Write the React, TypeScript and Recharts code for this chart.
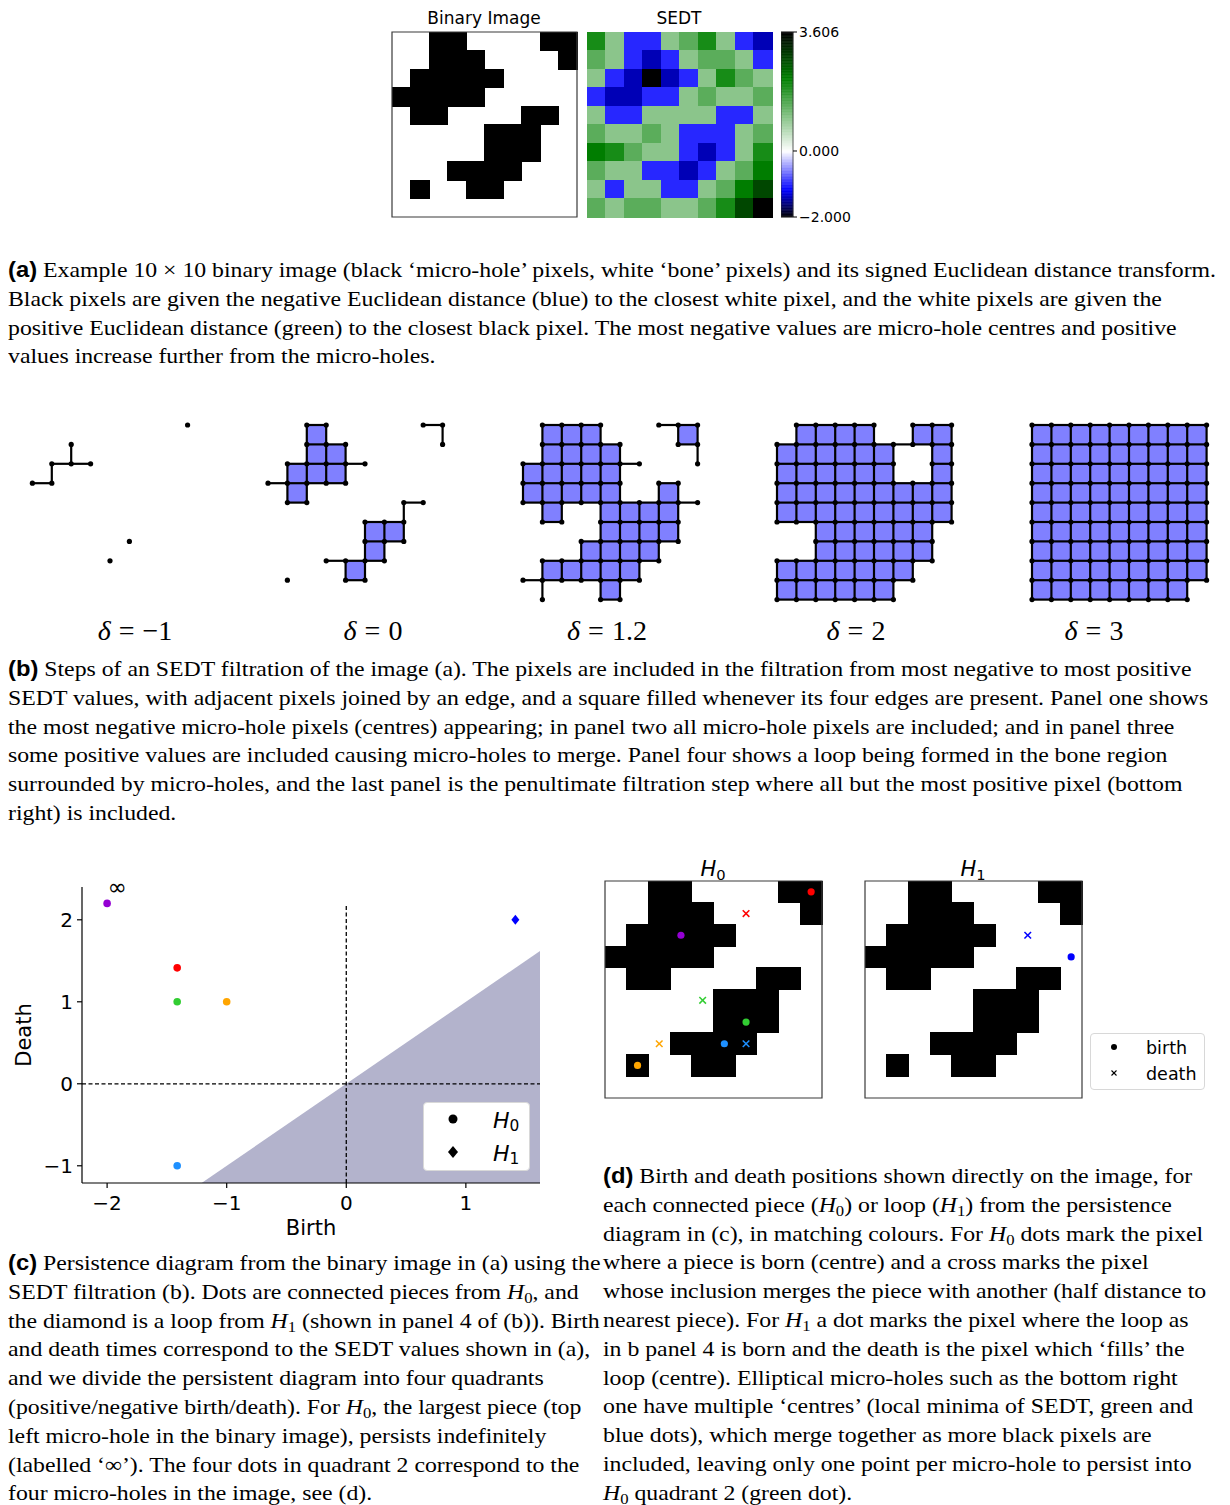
import React from 'react';
import {
  ScatterChart,
  Scatter,
  ComposedChart,
  Area,
  XAxis,
  YAxis,
  ReferenceArea,
  ReferenceLine,
} from 'recharts';

// 10 x 10 binary image: 1 = micro-hole (black), 0 = bone (white)
const binaryImage: number[][] = [
  [0, 0, 1, 1, 0, 0, 0, 0, 1, 1],
  [0, 0, 1, 1, 1, 0, 0, 0, 0, 1],
  [0, 1, 1, 1, 1, 1, 0, 0, 0, 0],
  [1, 1, 1, 1, 1, 0, 0, 0, 0, 0],
  [0, 1, 1, 0, 0, 0, 0, 1, 1, 0],
  [0, 0, 0, 0, 0, 1, 1, 1, 0, 0],
  [0, 0, 0, 0, 0, 1, 1, 1, 0, 0],
  [0, 0, 0, 1, 1, 1, 1, 0, 0, 0],
  [0, 1, 0, 0, 1, 1, 0, 0, 0, 0],
  [0, 0, 0, 0, 0, 0, 0, 0, 0, 0],
];

// signed Euclidean distance transform of the image above
const sedt: number[][] = [
  [2, 1, -1, -1, 1, 1.414, 2, 1, -1, -1.414],
  [1.414, 1, -1, -1.414, -1, 1, 1.414, 1.414, 1, -1],
  [1, -1, -1.414, -2, -1.414, -1, 1, 2, 1.414, 1],
  [-1, -1.414, -1.414, -1, -1, 1, 1.414, 1, 1, 1.414],
  [1, -1, -1, 1, 1, 1, 1, -1, -1, 1],
  [1.414, 1, 1, 1.414, 1, -1, -1, -1, 1, 1.414],
  [2.236, 2, 1.414, 1, 1, -1, -1.414, -1, 1, 2],
  [1.414, 1, 1, -1, -1, -1.414, -1, 1, 1.414, 2.236],
  [1, -1, 1, 1, -1, -1, 1, 1.414, 2.236, 2.828],
  [1.414, 1, 1.414, 1.414, 1, 1, 1.414, 2, 2.828, 3.606],
];

const colorbarTicks = [-2, 0, 3.606];
const SEDT_MIN = -2;
const SEDT_MAX = 3.606;

// filtration steps shown in (b): a pixel is in when its value is below delta
const filtrationDeltas = [-1, 0, 1.2, 2, 3];
const deltaLabels = ['−1', '0', '1.2', '2', '3'];

// persistence pairs (c); 2.2 is where the infinite death is drawn
const h0Birth = [-2, -1.414, -1.414, -1, -1.414];
const h0Death = [2.2, 1.414, 1, 1, -1];
const h1Birth = [1.414];
const h1Death = [2];
const birthTicks = [-2, -1, 0, 1];
const deathTicks = [-1, 0, 1, 2];

// pixel (row, col) of each birth / death for (d)
const h0BirthPixel: [number, number][] = [[2, 3], [0, 9], [6, 6], [8, 1], [7, 5]];
const h0DeathPixel: ([number, number] | null)[] = [null, [1, 6], [5, 4], [7, 2], [7, 6]];
const h1BirthPixel: [number, number][] = [[3, 9]];
const h1DeathPixel: [number, number][] = [[2, 7]];

const pieceColors = ['#9400d3', '#ff0000', '#32cd32', '#ffa500', '#1e90ff'];
const loopColors = ['#0000ff'];

const SERIF = '"Liberation Serif", "Times New Roman", serif';
const SANS = '"DejaVu Sans", Verdana, sans-serif';
const BOLD_SANS = '"Liberation Sans", Arial, sans-serif';

// black -> blue -> white -> green -> black, like the colorbar
const cmapStops: [number, number[]][] = [
  [-2, [0, 0, 0]],
  [-1.18, [0, 0, 255]],
  [0, [255, 255, 255]],
  [2.2, [0, 128, 0]],
  [3.606, [0, 0, 0]],
];

function cmap(v: number) {
  for (let i = 0; i < cmapStops.length - 1; i++) {
    const [a, ca] = cmapStops[i];
    const [b, cb] = cmapStops[i + 1];
    if (v <= b || i === cmapStops.length - 2) {
      const t = Math.max(0, Math.min(1, (v - a) / (b - a)));
      const c = ca.map((x, k) => Math.round(x + (cb[k] - x) * t));
      return `rgb(${c[0]},${c[1]},${c[2]})`;
    }
  }
  return '#000';
}

const minus = (v: number | string) => String(v).replace('-', '−');

const Sub = ({ children }: { children: React.ReactNode }) => (
  <sub style={{ fontSize: '0.7em', verticalAlign: '-0.25em', lineHeight: 0 }}>{children}</sub>
);
const Hk = ({ k }: { k: number }) => (
  <>
    <i>H</i>
    <Sub>{k}</Sub>
  </>
);

// ---------- image panels ----------
interface PixelImageProps {
  left: number;
  top: number;
  size: number;
  cellColor: (r: number, c: number) => string | null;
  border?: boolean;
  children?: React.ReactNode;
}

function PixelImage({ left, top, size, cellColor, border = true, children }: PixelImageProps) {
  const pad = 2;
  const cells: React.ReactNode[] = [];
  binaryImage.forEach((row, r) =>
    row.forEach((_, c) => {
      const fill = cellColor(r, c);
      if (fill) {
        cells.push(
          <ReferenceArea
            key={`${r}-${c}`}
            x1={c}
            x2={c + 1}
            y1={r}
            y2={r + 1}
            fill={fill}
            fillOpacity={1}
            stroke={fill}
            strokeWidth={1}
            shapeRendering="crispEdges"
            ifOverflow="visible"
          />
        );
      }
    })
  );
  return (
    <div style={{ position: 'absolute', left: left - pad, top: top - pad }}>
      <ScatterChart
        width={size + pad * 2}
        height={size + pad * 2}
        margin={{ top: pad, right: pad, bottom: pad, left: pad }}
      >
        <XAxis type="number" dataKey="x" domain={[0, 10]} hide allowDataOverflow />
        <YAxis type="number" dataKey="y" domain={[0, 10]} reversed hide allowDataOverflow />
        {cells}
        {border && (
          <ReferenceArea
            x1={0}
            x2={10}
            y1={0}
            y2={10}
            fill="none"
            stroke="#3a3a3a"
            strokeWidth={1.2}
            ifOverflow="visible"
          />
        )}
        {children}
      </ScatterChart>
    </div>
  );
}

function Colorbar() {
  // thin slices filled from the same colormap as the SEDT cells
  const slices: React.ReactNode[] = [];
  const n = 120;
  for (let i = 0; i < n; i++) {
    const lo = SEDT_MIN + ((SEDT_MAX - SEDT_MIN) * i) / n;
    const hi = SEDT_MIN + ((SEDT_MAX - SEDT_MIN) * (i + 1)) / n;
    const col = cmap((lo + hi) / 2);
    slices.push(
      <ReferenceArea
        key={i}
        x1={0}
        x2={1}
        y1={lo}
        y2={hi}
        fill={col}
        fillOpacity={1}
        stroke={col}
        strokeWidth={0.6}
        ifOverflow="visible"
      />
    );
  }
  return (
    <div style={{ position: 'absolute', left: 781, top: 22 }}>
      <ComposedChart width={92} height={205} margin={{ top: 10, right: 0, bottom: 10, left: 0 }}>
        <XAxis type="number" dataKey="x" domain={[0, 1]} hide allowDataOverflow />
        <YAxis
          type="number"
          dataKey="y"
          orientation="right"
          domain={[SEDT_MIN, SEDT_MAX]}
          ticks={colorbarTicks}
          interval={0}
          width={80}
          tickSize={4}
          tickMargin={2}
          axisLine={false}
          tickLine={{ stroke: '#000' }}
          tickFormatter={(v: number) => minus(v.toFixed(3))}
          tick={{ fill: '#000', fontSize: 14, fontFamily: SANS }}
          allowDataOverflow
        />
        {slices}
        <ReferenceArea
          x1={0}
          x2={1}
          y1={SEDT_MIN}
          y2={SEDT_MAX}
          fill="none"
          stroke="#333"
          strokeWidth={0.8}
          ifOverflow="visible"
        />
      </ComposedChart>
    </div>
  );
}

// ---------- filtration panel ----------
const STEP = 19.4;

function FiltrationPanel({ delta, left, top }: { delta: number; left: number; top: number }) {
  const pad = 6;
  const inc = (r: number, c: number) => sedt[r][c] < delta;
  const squares: React.ReactNode[] = [];
  const edges: React.ReactNode[] = [];
  const verts: { x: number; y: number }[] = [];
  for (let r = 0; r < 10; r++) {
    for (let c = 0; c < 10; c++) {
      if (!inc(r, c)) continue;
      verts.push({ x: c, y: r });
      if (c < 9 && inc(r, c + 1)) {
        edges.push(
          <ReferenceLine
            key={`h${r}-${c}`}
            segment={[{ x: c, y: r }, { x: c + 1, y: r }]}
            stroke="#000"
            strokeWidth={2.2}
            ifOverflow="visible"
          />
        );
      }
      if (r < 9 && inc(r + 1, c)) {
        edges.push(
          <ReferenceLine
            key={`v${r}-${c}`}
            segment={[{ x: c, y: r }, { x: c, y: r + 1 }]}
            stroke="#000"
            strokeWidth={2.2}
            ifOverflow="visible"
          />
        );
      }
      if (r < 9 && c < 9 && inc(r, c + 1) && inc(r + 1, c) && inc(r + 1, c + 1)) {
        squares.push(
          <ReferenceArea
            key={`s${r}-${c}`}
            x1={c}
            x2={c + 1}
            y1={r}
            y2={r + 1}
            fill="#8080ff"
            fillOpacity={1}
            stroke="none"
            ifOverflow="visible"
          />
        );
      }
    }
  }
  const size = STEP * 9;
  return (
    <div style={{ position: 'absolute', left: left - pad, top: top - pad }}>
      <ScatterChart
        width={size + pad * 2}
        height={size + pad * 2}
        margin={{ top: pad, right: pad, bottom: pad, left: pad }}
      >
        <XAxis type="number" dataKey="x" domain={[0, 9]} hide />
        <YAxis type="number" dataKey="y" domain={[0, 9]} reversed hide />
        {squares}
        {edges}
        <Scatter
          data={verts}
          isAnimationActive={false}
          shape={(p: any) => <circle cx={p.cx} cy={p.cy} r={2.6} fill="#000" />}
        />
      </ScatterChart>
    </div>
  );
}

// ---------- markers ----------
const dotShape = (color: string, r: number) => (p: any) => (
  <circle cx={p.cx} cy={p.cy} r={r} fill={color} />
);
const crossShape = (color: string, h: number, w = 1.5) => (p: any) => (
  <g stroke={color} strokeWidth={w}>
    <line x1={p.cx - h} y1={p.cy - h} x2={p.cx + h} y2={p.cy + h} />
    <line x1={p.cx - h} y1={p.cy + h} x2={p.cx + h} y2={p.cy - h} />
  </g>
);
const diamondShape = (color: string, h: number) => (p: any) => (
  <polygon
    points={`${p.cx},${p.cy - h} ${p.cx + h * 0.8},${p.cy} ${p.cx},${p.cy + h} ${p.cx - h * 0.8},${p.cy}`}
    fill={color}
  />
);

const pixelPoint = (px: [number, number]) => [{ x: px[1] + 0.5, y: px[0] + 0.5 }];

// ---------- persistence diagram ----------
const X_MIN = -2.21;
const X_MAX = 1.62;
const Y_MIN = -1.21;
const Y_MAX = 2.4;
const diagonal = [
  { x: Y_MIN, y: Y_MIN },
  { x: X_MAX, y: X_MAX },
];

function PersistenceDiagram() {
  const tick = { fill: '#000', fontSize: 20, fontFamily: SANS };
  return (
    <div style={{ position: 'absolute', left: 0, top: 860 }}>
      <ComposedChart
        width={560}
        height={400}
        data={diagonal}
        margin={{ top: 27, right: 20, bottom: 37, left: 32 }}
      >
        <XAxis
          type="number"
          dataKey="x"
          domain={[X_MIN, X_MAX]}
          ticks={birthTicks}
          interval={0}
          height={40}
          tickSize={5}
          tickMargin={8}
          tick={tick}
          tickFormatter={minus}
          axisLine={{ stroke: '#000', strokeWidth: 1.2 }}
          tickLine={{ stroke: '#000', strokeWidth: 1.2 }}
          allowDataOverflow
        />
        <YAxis
          type="number"
          dataKey="y"
          domain={[Y_MIN, Y_MAX]}
          ticks={deathTicks}
          interval={0}
          width={50}
          tickSize={5}
          tickMargin={4}
          tick={tick}
          tickFormatter={minus}
          axisLine={{ stroke: '#000', strokeWidth: 1.2 }}
          tickLine={{ stroke: '#000', strokeWidth: 1.2 }}
          allowDataOverflow
        />
        <Area
          type="linear"
          dataKey="y"
          baseValue={Y_MIN}
          fill="#b3b3cc"
          fillOpacity={1}
          stroke="none"
          isAnimationActive={false}
        />
        <ReferenceLine y={0} stroke="#000" strokeWidth={1.3} strokeDasharray="4 2.5" />
        <ReferenceLine
          segment={[{ x: 0, y: Y_MIN }, { x: 0, y: 2.2 }]}
          stroke="#000"
          strokeWidth={1.3}
          strokeDasharray="4 2.5"
        />
        {h0Birth.map((b, i) => (
          <Scatter
            key={`h0-${i}`}
            data={[{ x: b, y: h0Death[i] }]}
            isAnimationActive={false}
            shape={dotShape(pieceColors[i], 3.8)}
          />
        ))}
        {h1Birth.map((b, i) => (
          <Scatter
            key={`h1-${i}`}
            data={[{ x: b, y: h1Death[i] }]}
            isAnimationActive={false}
            shape={diamondShape(loopColors[i], 5)}
          />
        ))}
      </ComposedChart>
    </div>
  );
}

// ---------- captions ----------
function Caption({
  label,
  lines,
  left,
  top,
}: {
  label: string;
  lines: React.ReactNode[];
  left: number;
  top: number;
}) {
  return (
    <div
      style={{
        position: 'absolute',
        left,
        top,
        fontFamily: SERIF,
        fontSize: 21.5,
        lineHeight: '28.8px',
        whiteSpace: 'nowrap',
        color: '#000',
        transform: 'scaleX(1.105)',
        transformOrigin: '0 0',
      }}
    >
      {lines.map((ln, i) => (
        <div key={i}>
          {i === 0 && <b style={{ fontFamily: BOLD_SANS }}>({label})</b>}
          {i === 0 && ' '}
          {ln}
        </div>
      ))}
    </div>
  );
}

const captionA = [
  'Example 10 × 10 binary image (black ‘micro-hole’ pixels, white ‘bone’ pixels) and its signed Euclidean distance transform.',
  'Black pixels are given the negative Euclidean distance (blue) to the closest white pixel, and the white pixels are given the',
  'positive Euclidean distance (green) to the closest black pixel. The most negative values are micro-hole centres and positive',
  'values increase further from the micro-holes.',
];
const captionB = [
  'Steps of an SEDT filtration of the image (a). The pixels are included in the filtration from most negative to most positive',
  'SEDT values, with adjacent pixels joined by an edge, and a square filled whenever its four edges are present. Panel one shows',
  'the most negative micro-hole pixels (centres) appearing; in panel two all micro-hole pixels are included; and in panel three',
  'some positive values are included causing micro-holes to merge. Panel four shows a loop being formed in the bone region',
  'surrounded by micro-holes, and the last panel is the penultimate filtration step where all but the most positive pixel (bottom',
  'right) is included.',
];
const captionC: React.ReactNode[] = [
  'Persistence diagram from the binary image in (a) using the',
  <>SEDT filtration (b). Dots are connected pieces from <Hk k={0} />, and</>,
  <>the diamond is a loop from <Hk k={1} /> (shown in panel 4 of (b)). Birth</>,
  'and death times correspond to the SEDT values shown in (a),',
  'and we divide the persistent diagram into four quadrants',
  <>(positive/negative birth/death). For <Hk k={0} />, the largest piece (top</>,
  'left micro-hole in the binary image), persists indefinitely',
  '(labelled ‘∞’). The four dots in quadrant 2 correspond to the',
  'four micro-holes in the image, see (d).',
];
const captionD: React.ReactNode[] = [
  'Birth and death positions shown directly on the image, for',
  <>each connected piece (<Hk k={0} />) or loop (<Hk k={1} />) from the persistence</>,
  <>diagram in (c), in matching colours. For <Hk k={0} /> dots mark the pixel</>,
  'where a piece is born (centre) and a cross marks the pixel',
  'whose inclusion merges the piece with another (half distance to',
  <>nearest piece). For <Hk k={1} /> a dot marks the pixel where the loop as</>,
  'in b panel 4 is born and the death is the pixel which ‘fills’ the',
  'loop (centre). Elliptical micro-holes such as the bottom right',
  'one have multiple ‘centres’ (local minima of SEDT, green and',
  'blue dots), which merge together as more black pixels are',
  'included, leaving only one point per micro-hole to persist into',
  <><Hk k={0} /> quadrant 2 (green dot).</>,
];

const abs = (left: number, top: number, extra: React.CSSProperties = {}): React.CSSProperties => ({
  position: 'absolute',
  left,
  top,
  whiteSpace: 'nowrap',
  ...extra,
});

const panelLeft = [13.3, 267.9, 522.5, 777.1, 1031.7];
const labelCenter = [135, 373, 607, 856, 1094];

export default function App() {
  const black = (r: number, c: number) => (binaryImage[r][c] ? '#000' : null);
  return (
    <div style={{ position: 'absolute', left: 0, top: 0, width: 1230, height: 1505, background: '#fff' }}>
      {/* (a) */}
      <div style={abs(484, 18, { transform: 'translate(-50%,-50%)', fontFamily: SANS, fontSize: 17 })}>
        Binary Image
      </div>
      <div style={abs(679, 18, { transform: 'translate(-50%,-50%)', fontFamily: SANS, fontSize: 17 })}>SEDT</div>
      <PixelImage left={392} top={32} size={185} cellColor={black} />
      <PixelImage left={587} top={32} size={185} cellColor={(r, c) => cmap(sedt[r][c])} border={false} />
      <Colorbar />
      <Caption label="a" lines={captionA} left={8} top={256} />

      {/* (b) */}
      {filtrationDeltas.map((d, i) => (
        <FiltrationPanel key={i} delta={d} left={panelLeft[i]} top={425.3} />
      ))}
      {deltaLabels.map((l, i) => (
        <div
          key={i}
          style={abs(labelCenter[i], 631, {
            transform: 'translate(-50%,-50%)',
            fontFamily: SERIF,
            fontSize: 28,
            wordSpacing: '1px',
          })}
        >
          <i>δ</i> = {l}
        </div>
      ))}
      <Caption label="b" lines={captionB} left={8} top={655} />

      {/* (c) */}
      <PersistenceDiagram />
      <div style={abs(117, 887, { transform: 'translate(-50%,-50%)', fontFamily: SANS, fontSize: 23 })}>∞</div>
      <div style={abs(311, 1228, { transform: 'translate(-50%,-50%)', fontFamily: SANS, fontSize: 21 })}>Birth</div>
      <div
        style={abs(24, 1035, {
          transform: 'translate(-50%,-50%) rotate(-90deg)',
          fontFamily: SANS,
          fontSize: 21,
        })}
      >
        Death
      </div>
      <div
        style={abs(423, 1102, {
          width: 107,
          height: 69,
          boxSizing: 'border-box',
          border: '1px solid #d8d8d8',
          borderRadius: 4,
          background: '#fff',
        })}
      >
        <svg width={107} height={69} style={{ position: 'absolute', left: -1, top: -1 }}>
          <circle cx={30} cy={17} r={4.5} fill="#000" />
          <polygon points="30,44 35,50 30,56 25,50" fill="#000" />
        </svg>
        <div style={abs(69, 17, { transform: 'translateY(-50%)', fontFamily: SANS, fontSize: 22 })}>
          <Hk k={0} />
        </div>
        <div style={abs(69, 50, { transform: 'translateY(-50%)', fontFamily: SANS, fontSize: 22 })}>
          <Hk k={1} />
        </div>
      </div>
      <Caption label="c" lines={captionC} left={8} top={1249} />

      {/* (d) */}
      <div style={abs(713, 869, { transform: 'translate(-50%,-50%)', fontFamily: SANS, fontSize: 21 })}>
        <Hk k={0} />
      </div>
      <div style={abs(973, 869, { transform: 'translate(-50%,-50%)', fontFamily: SANS, fontSize: 21 })}>
        <Hk k={1} />
      </div>
      <PixelImage left={605} top={881} size={217} cellColor={black}>
        {h0BirthPixel.map((px, i) => (
          <Scatter
            key={`b${i}`}
            data={pixelPoint(px)}
            isAnimationActive={false}
            shape={dotShape(pieceColors[i], 3.6)}
          />
        ))}
        {h0DeathPixel.map((px, i) =>
          px ? (
            <Scatter
              key={`d${i}`}
              data={pixelPoint(px)}
              isAnimationActive={false}
              shape={crossShape(pieceColors[i], 3.3)}
            />
          ) : null
        )}
      </PixelImage>
      <PixelImage left={865} top={881} size={217} cellColor={black}>
        {h1BirthPixel.map((px, i) => (
          <Scatter
            key={`b${i}`}
            data={pixelPoint(px)}
            isAnimationActive={false}
            shape={dotShape(loopColors[i], 3.6)}
          />
        ))}
        {h1DeathPixel.map((px, i) => (
          <Scatter
            key={`d${i}`}
            data={pixelPoint(px)}
            isAnimationActive={false}
            shape={crossShape(loopColors[i], 3.3)}
          />
        ))}
      </PixelImage>
      <div
        style={abs(1090, 1033, {
          width: 115,
          height: 57,
          boxSizing: 'border-box',
          border: '1px solid #d8d8d8',
          borderRadius: 4,
          background: '#fff',
        })}
      >
        <svg width={115} height={57} style={{ position: 'absolute', left: -1, top: -1 }}>
          <circle cx={24} cy={14} r={3} fill="#000" />
          <g stroke="#000" strokeWidth={1.1}>
            <line x1={21.5} y1={37.5} x2={26.5} y2={42.5} />
            <line x1={21.5} y1={42.5} x2={26.5} y2={37.5} />
          </g>
        </svg>
        <div style={abs(55, 14, { transform: 'translateY(-50%)', fontFamily: SANS, fontSize: 17.5 })}>birth</div>
        <div style={abs(55, 40, { transform: 'translateY(-50%)', fontFamily: SANS, fontSize: 17.5 })}>death</div>
      </div>
      <Caption label="d" lines={captionD} left={603} top={1162} />
    </div>
  );
}
